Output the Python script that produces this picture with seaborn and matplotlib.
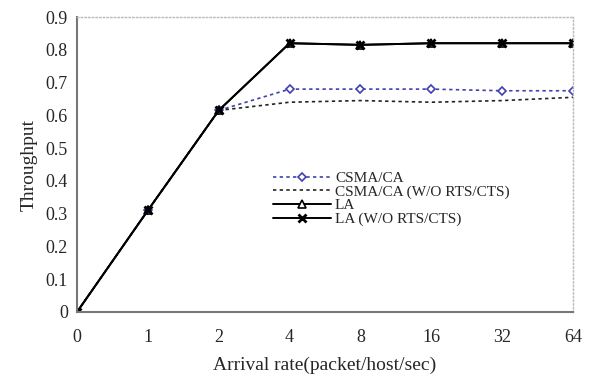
import matplotlib
matplotlib.use("Agg")
import matplotlib.pyplot as plt
import seaborn as sns
import pandas as pd

categories = ["0", "1", "2", "4", "8", "16", "32", "64"]
csma = [0, 0.31, 0.615, 0.68, 0.68, 0.68, 0.675, 0.675]
csma_wo = [0, 0.31, 0.615, 0.64, 0.645, 0.64, 0.645, 0.655]
la = [0, 0.31, 0.615, 0.82, 0.815, 0.82, 0.82, 0.82]
la_wo = [0, 0.31, 0.615, 0.82, 0.815, 0.82, 0.82, 0.82]
series_names = ["CSMA/CA", "CSMA/CA (W/O RTS/CTS)", "LA", "LA (W/O RTS/CTS)"]

sns.set_style("white")
plt.rcParams["font.family"] = ["Liberation Serif", "DejaVu Serif"]

rows = []
for name, vals in zip(series_names, [csma, csma_wo, la, la_wo]):
    for i, v in enumerate(vals):
        rows.append({"pos": i, "val": v, "series": name})
df = pd.DataFrame(rows)

fig = plt.figure(figsize=(5.94, 3.75), dpi=100)
ax = fig.add_axes([77/594, 1 - 312/375, (573-77)/594, (312-17)/375])

styles = {
    "CSMA/CA": dict(color="#4040b0", linestyle=(0, (2, 2)), marker="D", markersize=4.5,
                    markerfacecolor="white", markeredgecolor="#4040b0", markeredgewidth=1.2, lw=1.2),
    "CSMA/CA (W/O RTS/CTS)": dict(color="#222222", linestyle=(0, (2, 2)), marker=None, lw=1.2),
    "LA": dict(color="black", linestyle="-", marker="^", markersize=6,
               markerfacecolor="white", markeredgecolor="black", markeredgewidth=1.2, lw=1.4),
    "LA (W/O RTS/CTS)": dict(color="black", linestyle="-", marker="x", markersize=6,
                             markeredgecolor="black", markeredgewidth=2.0, lw=1.4),
}
for name in series_names:
    sub = df[df["series"] == name]
    st = dict(styles[name])
    sns.lineplot(data=sub, x="pos", y="val", ax=ax, label=name, color=st.pop("color"),
                 linestyle=st.pop("linestyle"), marker=st.pop("marker"), lw=st.pop("lw"),
                 **st)

ax.set_xlim(0, 7)
ax.set_ylim(0, 0.9)
ax.set_xticks(range(len(categories)))
ax.set_xticklabels(categories)
ax.set_yticks([i/10 for i in range(10)])
ax.set_yticklabels(["0"] + [f"{i/10:.1f}" for i in range(1, 10)])
ax.tick_params(axis="x", direction="in", length=4, labelsize=13, pad=12, color="#666666")
ax.tick_params(axis="y", direction="out", length=3, labelsize=13, color="#666666")
ax.set_xlabel("Arrival rate(packet/host/sec)", fontsize=14, labelpad=8)
ax.set_ylabel("Throughput", fontsize=14, labelpad=6)

for s in ["left", "bottom"]:
    ax.spines[s].set_color("#777777")
    ax.spines[s].set_linewidth(1.5)
for s in ["top", "right"]:
    ax.spines[s].set_color("#bbbbbb")
    ax.spines[s].set_linestyle(":")
    ax.spines[s].set_linewidth(1.0)

leg = ax.legend(loc="upper left", bbox_to_anchor=(0.383, 0.498), frameon=False,
                fontsize=11, handlelength=3.8, labelspacing=0.0, handletextpad=0.25,
                borderaxespad=0)
fig.savefig("out.png", dpi=100)
